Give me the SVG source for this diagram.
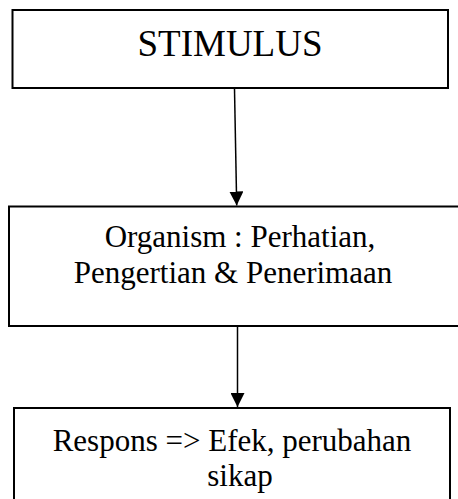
<svg xmlns="http://www.w3.org/2000/svg" width="458" height="499" viewBox="0 0 458 499">
<style>
.box{fill:#fff;stroke:#000;stroke-width:2}
.t{font-family:"Liberation Serif","Times New Roman",serif;fill:#000;text-anchor:middle}
.c{stroke:#000;stroke-width:1.5;fill:none}
</style>
<defs>
<marker id="ah" markerWidth="14" markerHeight="14" refX="14" refY="7" orient="auto" markerUnits="userSpaceOnUse" viewBox="0 0 14 14">
<path d="M0,0 L14,7 L0,14 Z" fill="#000"/>
</marker>
</defs>
<rect width="458" height="499" fill="#fff"/>
<g id="stimulus">
<rect class="box" x="12.5" y="10" width="435.5" height="78"/>
<text class="t" x="230" y="56" font-size="37">STIMULUS</text>
</g>
<g id="organism">
<rect class="box" x="9" y="206.5" width="470" height="119.5"/>
<text class="t" x="240" y="247" font-size="31">Organism : Perhatian,</text>
<text class="t" x="233" y="283" font-size="31">Pengertian &amp; Penerimaan</text>
</g>
<g id="respons">
<rect class="box" x="14" y="408" width="436" height="120"/>
<text class="t" x="232" y="451" font-size="31">Respons =&gt; Efek, perubahan</text>
<text class="t" x="240" y="486" font-size="31">sikap</text>
</g>
<g id="connectors">
<line class="c" x1="234.5" y1="89" x2="236.7" y2="205.5" marker-end="url(#ah)"/>
<line class="c" x1="237.5" y1="327" x2="237.5" y2="407" marker-end="url(#ah)"/>
</g>
</svg>
